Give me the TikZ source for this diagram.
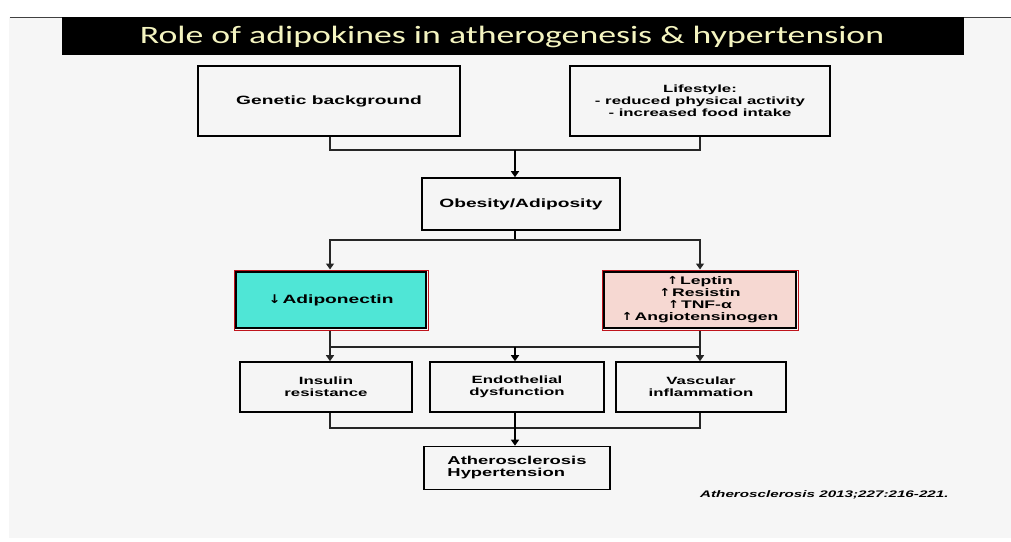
\documentclass[tikz,border=0pt]{standalone}
\usepackage{fontspec}
\usetikzlibrary{arrows.meta}
\newfontfamily\bx{Liberation Sans}[FakeStretch=1.6]
\newfontfamily\arrfont{DejaVu Sans}[FakeStretch=1.2]
\newfontfamily\ttl{Carlito}[FakeStretch=1.43]
\newcommand{\upa}{{\arrfont\bfseries ↑}}
\newcommand{\dna}{{\arrfont\bfseries ↓}}
\definecolor{pagebg}{HTML}{F6F6F6}
\definecolor{titleyel}{HTML}{F4F4C0}
\definecolor{cyanfill}{HTML}{4FE6D6}
\definecolor{pinkfill}{HTML}{F6D8D2}
\definecolor{redline}{HTML}{C0141C}
\tikzset{
  box/.style={draw=black, line width=1.6pt, fill=white!96!black, rectangle, align=center, inner sep=0pt, font=\bx\bfseries\fontsize{12}{13}\selectfont},
  smallbox/.style={box, font=\bx\bfseries\fontsize{10.5}{12}\selectfont},
  rim/.style={draw=redline, line width=1pt, fill=none, rectangle, inner sep=0pt},
  conn/.style={line width=1.3pt, draw=black!85},
  mainconn/.style={line width=2.6pt, draw=black},
  arr/.style={-{Triangle[length=6pt,width=8pt]}},
}
\begin{document}
\begin{tikzpicture}[x=1pt,y=-1pt]
\useasboundingbox (0,0) rectangle (1011,541);
\fill[white] (0,0) rectangle (1011,541);
\fill[pagebg] (9,17) rectangle (1011,538);
\draw[line width=1pt, black!75] (10,17) -- (1011,17);
% title bar
\node[fill=black, minimum width=902pt, minimum height=38pt, inner sep=0pt, anchor=north west] (title) at (62,17) {};
\node[text=titleyel, font=\ttl\fontsize{25}{28}\selectfont] (titletext) at (512,37) {Role of adipokines in atherogenesis \& hypertension};
% boxes
\node[box, minimum width=262pt, minimum height=70pt] (gen) at (329,101) {Genetic background};
\node[smallbox, minimum width=260pt, minimum height=70pt] (life) at (700,101) {Lifestyle:\\- reduced physical activity\\- increased food intake};
\node[box, minimum width=198pt, minimum height=52pt] (obe) at (521,204) {Obesity/Adiposity};
\node[rim, minimum width=194pt, minimum height=60pt] (adiporim) at (331,300) {};
\node[box, fill=cyanfill, line width=2.6pt, minimum width=190pt, minimum height=56pt] (adipo) at (331,300) {\dna\,Adiponectin};
\node[rim, minimum width=196pt, minimum height=60pt] (leprim) at (700,300) {};
\node[box, fill=pinkfill, line width=2.6pt, minimum width=192pt, minimum height=56pt, font=\bx\bfseries\fontsize{11}{12}\selectfont] (lep) at (700,300) {\upa\,Leptin\\\upa\,Resistin\\\upa\,TNF-α\\\upa\,Angiotensinogen};
\node[smallbox, minimum width=172pt, minimum height=50pt] (ins) at (326,387) {Insulin\\resistance};
\node[smallbox, minimum width=174pt, minimum height=50pt] (endo) at (517,387) {Endothelial\\dysfunction};
\node[smallbox, minimum width=170pt, minimum height=50pt] (vasc) at (701,387) {Vascular\\inflammation};
\node[box, minimum width=186pt, minimum height=43pt, font=\bx\bfseries\fontsize{11.5}{12}\selectfont] (ath) at (517,468) {\begin{tabular}{@{}l@{}}Atherosclerosis\\Hypertension\end{tabular}};
\node[font=\bx\itshape\bfseries\fontsize{9.5}{11}\selectfont, anchor=west, inner sep=0pt] (cite) at (700,495) {Atherosclerosis 2013;227:216-221.};
% junctions
\coordinate (j1) at (515,150);
\coordinate (j2) at (515,240);
\coordinate (j3) at (515,347);
\coordinate (j4) at (515,428);
% level 1
\draw[conn] (gen.south -| 330,0) |- (j1) -| (life.south -| 700,0);
\draw[mainconn, arr] (j1) -- (obe.north -| j1);
% level 2
\draw[mainconn] (obe.south -| j2) -- (j2);
\draw[conn, arr] (j2) -| (adiporim.north -| 330,0);
\draw[conn, arr] (j2) -| (leprim.north -| 700,0);
% level 3
\draw[conn] (adiporim.south -| 330,0) |- (j3) -| (leprim.south -| 700,0);
\draw[conn, arr] (j3 -| 330,0) -- (ins.north -| 330,0);
\draw[mainconn, arr] (j3) -- (endo.north -| j3);
\draw[conn, arr] (j3 -| 700,0) -- (vasc.north -| 700,0);
% level 4
\draw[conn] (ins.south -| 330,0) |- (j4) -| (vasc.south -| 700,0);
\draw[mainconn] (endo.south -| j4) -- (j4);
\draw[mainconn, arr] (j4) -- (ath.north -| j4);
\end{tikzpicture}
\end{document}
